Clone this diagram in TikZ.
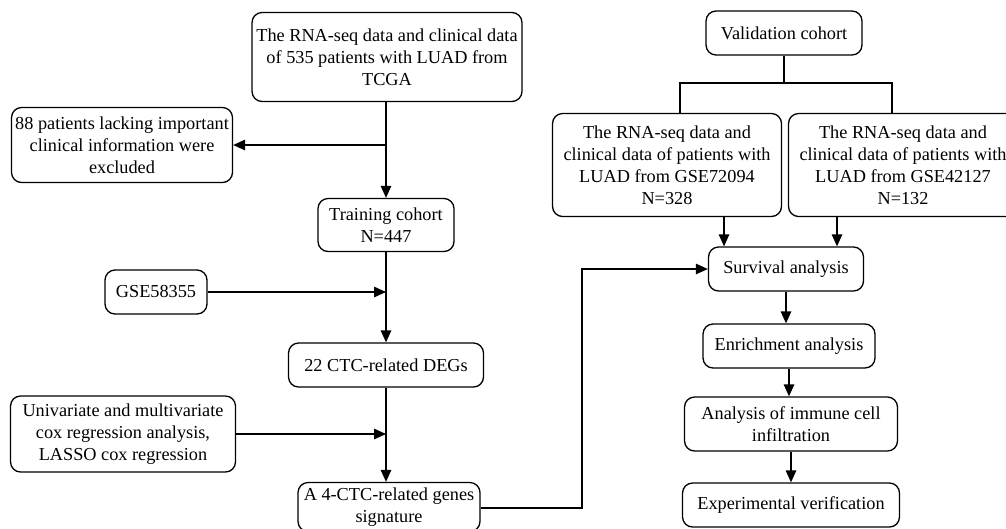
\documentclass[tikz,border=0pt]{standalone}
\usepackage{fontspec}
\setmainfont{Liberation Serif}
\usetikzlibrary{arrows.meta}

\tikzset{
  caja/.style={draw, line width=0.75pt, rounded corners=0.2cm, align=center,
    inner sep=1pt, font=\fontsize{10.4}{12.6}\selectfont},
  flecha/.style={line width=0.75pt, -{Triangle[length=2.4mm,width=2.1mm]}},
  linea/.style={line width=0.75pt}
}

\begin{document}
\begin{tikzpicture}[x=0.02cm, y=-0.02cm]
            \clip (0,0) rectangle (1006,528);

            % Rama de entrenamiento (TCGA)
            \node[caja, minimum width=5.4cm, minimum height=1.78cm] (tcga) at (387,57)
                {The RNA-seq data and clinical data\\of 535 patients with LUAD from\\TCGA};
            \node[caja, minimum width=4.42cm, minimum height=1.5cm] (excl) at (122,145)
                {88 patients lacking important\\clinical information were\\excluded};
            \node[caja, minimum width=2.72cm, minimum height=1.06cm] (train) at (386,225)
                {Training cohort\\N=447};
            \node[caja, minimum width=2.04cm, minimum height=0.88cm] (gse58) at (156,292) {GSE58355};
            \node[caja, minimum width=3.9cm, minimum height=0.88cm] (degs) at (386,365) {22 CTC-related DEGs};
            \node[caja, minimum width=4.5cm, minimum height=1.52cm] (cox) at (123,434)
                {Univariate and multivariate\\cox regression analysis,\\LASSO cox regression};
            \node[caja, minimum width=3.64cm, minimum height=0.98cm] (sig) at (389,507)
                {A 4-CTC-related genes\\signature};

            % Cohortes de validación
            \node[caja, minimum width=3.12cm, minimum height=0.88cm] (valid) at (784,33) {Validation cohort};
            \node[caja, minimum width=4.58cm, minimum height=2.06cm] (g72) at (667,165)
                {The RNA-seq data and\\clinical data of patients with\\LUAD from GSE72094\\N=328};
            \node[caja, minimum width=4.58cm, minimum height=2.06cm] (g42) at (903,165)
                {The RNA-seq data and\\clinical data of patients with\\LUAD from GSE42127\\N=132};

            % Análisis posteriores
            \node[caja, minimum width=3.1cm, minimum height=0.88cm] (surv) at (786,269) {Survival analysis};
            \node[caja, minimum width=3.44cm, minimum height=0.88cm] (enrich) at (789,346) {Enrichment analysis};
            \node[caja, minimum width=4.26cm, minimum height=1.08cm] (immune) at (791,424)
                {Analysis of immune cell\\infiltration};
            \node[caja, minimum width=4.34cm, minimum height=0.88cm] (verif) at (791,505) {Experimental verification};

            % Flechas de la columna izquierda
            \draw[flecha] (tcga.south -| train.north) -- (train.north);
            \draw[flecha] (train.north |- excl.east) -- (excl.east);
            \draw[flecha] (train) -- (degs);
            \draw[flecha] (gse58.east) -- (gse58.east -| train.south);
            \draw[flecha] (degs.south) -- (degs.south |- sig.north);
            \draw[flecha] (cox.east) -- (cox.east -| degs.south);

            % Firma hacia el análisis de supervivencia
            \coordinate (codo) at (582,508);
            \draw[flecha] (sig.east |- codo) -- (codo) |- (surv.west);

            % Reparto de la cohorte de validación
            \coordinate (reparto) at (784,83);
            \coordinate (e72) at ([xshift=0.26cm]g72.north);
            \coordinate (e42) at ([xshift=-0.22cm]g42.north);
            \draw[linea] (valid.south) -- (reparto);
            \draw[linea] (e72) |- (reparto) -| (e42);

            % Entradas a la supervivencia
            \coordinate (s72) at ([xshift=-1.24cm]surv.north);
            \coordinate (s42) at ([xshift=1.02cm]surv.north);
            \draw[flecha] (s72 |- g72.south) -- (s72);
            \draw[flecha] (s42 |- g42.south) -- (s42);

            % Cadena final
            \draw[flecha] (surv.south) -- (surv.south |- enrich.north);
            \draw[flecha] (enrich.south) -- (enrich.south |- immune.north);
            \draw[flecha] (immune.south) -- (immune.south |- verif.north);
\end{tikzpicture}
\end{document}
